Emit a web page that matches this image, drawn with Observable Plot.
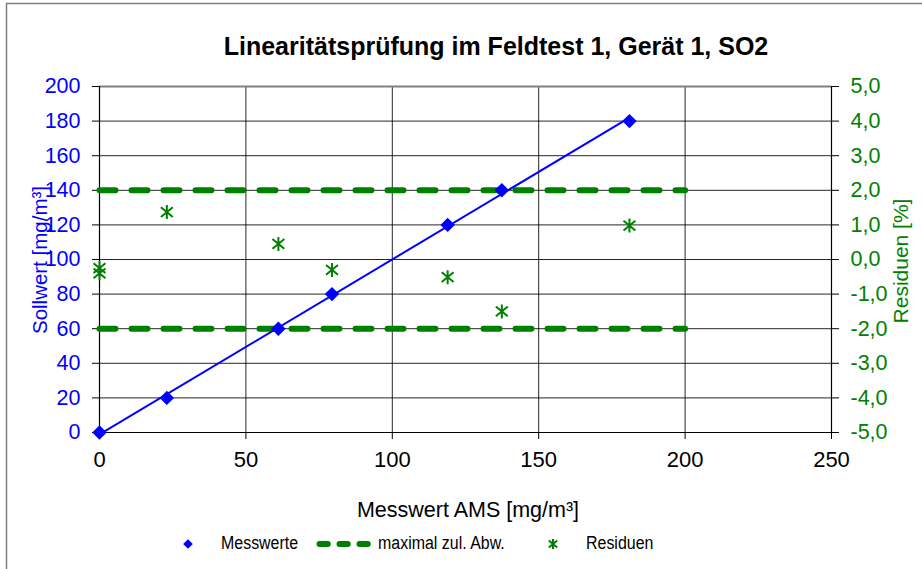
<!DOCTYPE html>
<html>
<head>
<meta charset="utf-8">
<script src="https://cdn.jsdelivr.net/npm/d3@7"></script>
<script src="https://cdn.jsdelivr.net/npm/@observablehq/plot@0.6"></script>
<style>
  body { margin: 0; background: #fff; }
  svg { font-family: "Liberation Sans", Arial, sans-serif; }
</style>
</head>
<body>
<div id="chart"></div>
<script>
// ---- data ----
const title = "Linearitätsprüfung im Feldtest 1, Gerät 1, SO2";
const xTitle = "Messwert AMS [mg/m³]";
const yTitle = "Sollwert [mg/m³]";
const y2Title = "Residuen [%]";
const legendLabels = ["Messwerte", "maximal zul. Abw.", "Residuen"];

const messwertAMS = [0, 23.0, 61.1, 79.4, 118.9, 137.4, 181.0];
const sollwert    = [0, 20, 60, 80, 120, 140, 180];

const residuenX = [0, 0, 23.0, 61.1, 79.4, 118.9, 137.4, 181.0];
const residuen  = [-0.25, -0.4, 1.37, 0.45, -0.3, -0.51, -1.5, 0.98];

const grenzeX = [0, 200];
const grenzen = [2, -2];

const xTicks  = [0, 50, 100, 150, 200, 250];
const yTicks  = [0, 20, 40, 60, 80, 100, 120, 140, 160, 180, 200];
const y2Ticks = [-5, -4, -3, -2, -1, 0, 1, 2, 3, 4, 5];

// ---- helpers ----
const BLUE = "#0000ff", GREEN = "#008000";
const toLeft = r => (r + 5) * 20;            // residual axis [-5,5] -> left axis [0,200]
const fmtR = d => (d / 20 - 5).toFixed(1).replace(".", ",").replace("-0,0", "0,0");

const mess = messwertAMS.map((x, i) => ({x, y: sollwert[i]}));
const res = residuenX.map((x, i) => ({x, r: residuen[i]}));
const limits = grenzen.flatMap(g => grenzeX.map(x => ({x, g})));

// Excel-like star marker: vertical bar plus an X
const star = {
  draw(ctx, size) {
    const r = Math.sqrt(size / Math.PI);
    ctx.moveTo(0, -r); ctx.lineTo(0, r);
    ctx.moveTo(-0.85 * r, -0.7 * r); ctx.lineTo(0.85 * r, 0.7 * r);
    ctx.moveTo(0.85 * r, -0.7 * r); ctx.lineTo(-0.85 * r, 0.7 * r);
  }
};

const plot = Plot.plot({
  width: 922,
  height: 569,
  marginLeft: 99,
  marginRight: 91,
  marginTop: 86,
  marginBottom: 137,
  style: {fontFamily: "'Liberation Sans', Arial, sans-serif", background: "white", overflow: "visible"},
  x: {domain: [0, 250]},
  y: {domain: [0, 200]},
  marks: [
    Plot.gridY(yTicks, {stroke: "#000", strokeOpacity: 0.85, strokeWidth: 1}),
    Plot.gridX(xTicks, {stroke: "#000", strokeOpacity: 0.85, strokeWidth: 1}),
    Plot.ruleY([200], {stroke: "#808080", strokeWidth: 2}),
    Plot.ruleY([0], {stroke: "#000", strokeWidth: 1.2}),
    Plot.ruleX([0], {stroke: "#000", strokeWidth: 1.2}),
    Plot.ruleX([250], {stroke: "#000", strokeWidth: 1.2}),
    Plot.axisX(xTicks, {tickSize: 7, tickPadding: 12, fontSize: 22, fill: "#000", stroke: "#000", label: null}),
    Plot.axisY(yTicks, {anchor: "left", tickSize: 7, tickPadding: 12, fontSize: 21.5, fill: BLUE, stroke: "#000", label: null}),
    Plot.axisY(y2Ticks.map(toLeft), {anchor: "right", tickSize: 7, tickPadding: 12, fontSize: 21.5, fill: GREEN, stroke: "#000", label: null, tickFormat: fmtR}),
    Plot.line(limits, {x: "x", y: d => toLeft(d.g), z: "g", stroke: GREEN, strokeWidth: 6, strokeDasharray: "16,16", strokeLinecap: "round"}),
    Plot.linearRegressionY(mess, {x: "x", y: "y", stroke: BLUE, strokeWidth: 2, ci: 0}),
    Plot.dot(mess, {x: "x", y: "y", symbol: "diamond2", fill: BLUE, stroke: "none", r: 6.5}),
    Plot.dot(res, {x: "x", y: d => toLeft(d.r), symbol: star, stroke: GREEN, strokeWidth: 2, fill: "none", r: 7})
  ]
});

document.getElementById("chart").appendChild(plot);

// ---- titles, legend and frame ----
const svg = d3.select(plot);
svg.append("rect")
  .attr("x", 6.5).attr("y", 3.5).attr("width", 960).attr("height", 620)
  .attr("fill", "none").attr("stroke", "#7f7f7f").attr("stroke-width", 1.5);

svg.append("text").text(title)
  .attr("x", 496).attr("y", 48).attr("text-anchor", "middle").attr("dominant-baseline", "middle")
  .attr("font-size", 25).attr("font-weight", "bold").attr("fill", "#000");

svg.append("text").text(xTitle)
  .attr("x", 468).attr("y", 511).attr("text-anchor", "middle").attr("dominant-baseline", "middle")
  .attr("font-size", 21.5).attr("fill", "#000");

svg.append("text").text(yTitle)
  .attr("transform", "translate(42,260) rotate(-90)")
  .attr("text-anchor", "middle").attr("dominant-baseline", "middle")
  .attr("font-size", 20.5).attr("fill", BLUE);

svg.append("text").text(y2Title)
  .attr("transform", "translate(902,261) rotate(-90)")
  .attr("text-anchor", "middle").attr("dominant-baseline", "middle")
  .attr("font-size", 21).attr("fill", GREEN);

// legend (Excel renders this text slightly condensed)
const ly = 544;
const lg = svg.append("g").attr("fill", "#000").attr("text-anchor", "start");
const legendText = (s, x) => lg.append("text").text(s)
  .attr("transform", `translate(${x},${ly}) scale(0.84,1)`)
  .attr("font-size", 19).attr("dominant-baseline", "middle");
lg.append("path").attr("d", d3.symbol(d3.symbolDiamond2, 60)()).attr("transform", `translate(188,${ly})`).attr("fill", BLUE);
legendText(legendLabels[0], 221);
lg.append("line").attr("x1", 319.5).attr("x2", 368).attr("y1", ly).attr("y2", ly)
  .attr("stroke", GREEN).attr("stroke-width", 6).attr("stroke-dasharray", "8.3,11.7").attr("stroke-linecap", "round");
legendText(legendLabels[1], 378);
lg.append("path").attr("d", (() => { const p = d3.path(); star.draw(p, Math.PI * 25); return p.toString(); })())
  .attr("transform", `translate(553,${ly})`).attr("stroke", GREEN).attr("stroke-width", 2).attr("fill", "none");
legendText(legendLabels[2], 586);
</script>
</body>
</html>
